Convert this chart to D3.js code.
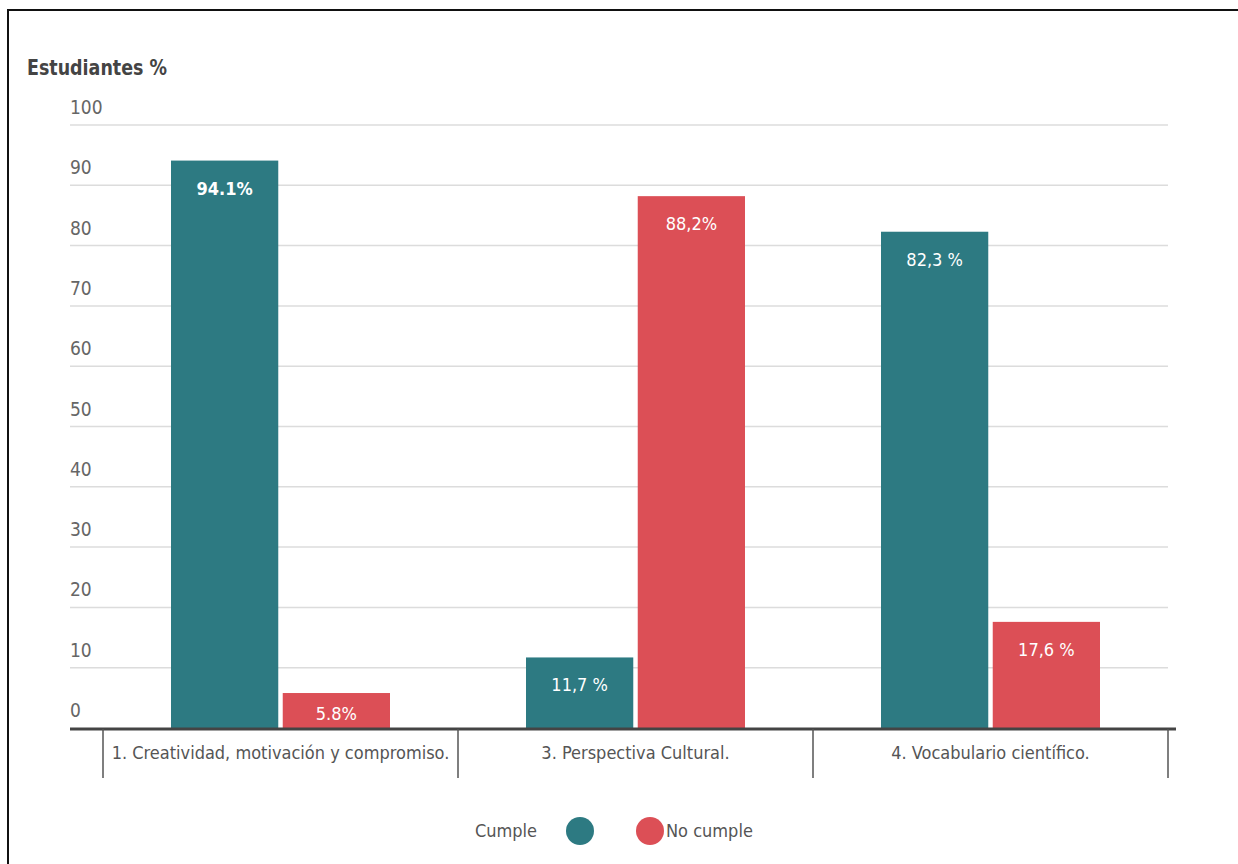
<!DOCTYPE html>
<html>
<head>
<meta charset="utf-8">
<script src="https://cdn.jsdelivr.net/npm/d3@7"></script>
<style>
  html, body { margin: 0; padding: 0; background: #fff; }
  svg { display: block; font-family: "Liberation Sans Narrow", "DejaVu Sans Condensed", "Roboto Condensed", sans-serif; }
</style>
</head>
<body>
<svg id="chart" width="1238" height="864"></svg>
<script>
// Categories, series and their labels
const categories = [
  "1. Creatividad, motivación y compromiso.",
  "3. Perspectiva Cultural.",
  "4. Vocabulario científico."
];
const seriesNames = ["Cumple", "No cumple"];
const cumple = [94.1, 11.7, 82.3];
const noCumple = [5.8, 88.2, 17.6];
const cumpleLabels = ["94.1%", "11,7 %", "82,3 %"];
const noCumpleLabels = ["5.8%", "88,2%", "17,6 %"];
const yTicks = [0, 10, 20, 30, 40, 50, 60, 70, 80, 90, 100];
const colors = ["#2d7a82", "#dc4f56"];

const svg = d3.select("#chart");
const W = 1238, H = 864;

// Frame lines along the top and left edges
svg.append("line").attr("x1", 7).attr("x2", W).attr("y1", 10).attr("y2", 10)
  .attr("stroke", "#111").attr("stroke-width", 2);
svg.append("line").attr("x1", 8).attr("x2", 8).attr("y1", 9).attr("y2", H)
  .attr("stroke", "#111").attr("stroke-width", 2);

const gridLeft = 70, gridRight = 1168;
const catLeft = 103, catRight = 1168;
const y = d3.scaleLinear().domain([0, 100]).range([728, 125]);
const x0 = d3.scaleBand().domain(categories).range([catLeft, catRight]).paddingInner(0).paddingOuter(0);
const x1 = d3.scaleBand().domain(seriesNames).range([0, 219]).paddingInner(0.04);
const barOffset = (x0.bandwidth() - 219) / 2;

// Title
svg.append("text").attr("x", 27).attr("y", 75)
  .attr("font-size", 21).attr("font-weight", "bold").attr("fill", "#444")
  .attr("textLength", 140).attr("lengthAdjust", "spacingAndGlyphs")
  .text("Estudiantes %");

// Gridlines and tick labels
const grid = svg.append("g");
yTicks.forEach(t => {
  if (t > 0) {
    grid.append("line").attr("x1", gridLeft).attr("x2", gridRight)
      .attr("y1", y(t)).attr("y2", y(t))
      .attr("stroke", "#dcdcdc").attr("stroke-width", 1.5);
  }
  grid.append("text").attr("x", gridLeft).attr("y", y(t) - 11)
    .attr("font-size", 19).attr("fill", "#666").text(t);
});

// Bars
const rows = categories.map((c, i) => ({
  cat: c,
  vals: [
    { s: seriesNames[0], v: cumple[i], label: cumpleLabels[i], bold: i === 0 },
    { s: seriesNames[1], v: noCumple[i], label: noCumpleLabels[i], bold: false }
  ]
}));

const groups = svg.append("g").selectAll("g").data(rows).join("g")
  .attr("transform", d => `translate(${x0(d.cat) + barOffset},0)`);

groups.selectAll("rect").data(d => d.vals).join("rect")
  .attr("x", d => x1(d.s))
  .attr("y", d => y(d.v))
  .attr("width", x1.bandwidth())
  .attr("height", d => y(0) - y(d.v))
  .attr("fill", (d, i) => colors[i]);

// Value labels sit near the top of each bar, kept above the baseline
groups.selectAll("text").data(d => d.vals).join("text")
  .attr("x", d => x1(d.s) + x1.bandwidth() / 2)
  .attr("y", d => Math.min(y(d.v) + 34, y(0) - 8))
  .attr("text-anchor", "middle")
  .attr("font-size", 18)
  .attr("font-weight", d => d.bold ? "bold" : "normal")
  .attr("fill", "#fff")
  .text(d => d.label);

// Baseline axis
svg.append("line").attr("x1", gridLeft).attr("x2", 1176)
  .attr("y1", y(0) + 1).attr("y2", y(0) + 1)
  .attr("stroke", "#444").attr("stroke-width", 3);

// Category separators and labels
const seps = [catLeft, ...categories.map(c => x0(c) + x0.bandwidth())];
seps.forEach(sx => {
  svg.append("line").attr("x1", sx).attr("x2", sx).attr("y1", 729).attr("y2", 778)
    .attr("stroke", "#555").attr("stroke-width", 1.5);
});
svg.append("g").selectAll("text").data(categories).join("text")
  .attr("x", d => x0(d) + x0.bandwidth() / 2)
  .attr("y", 759)
  .attr("text-anchor", "middle")
  .attr("font-size", 18).attr("fill", "#555")
  .text(d => d);

// Legend
const ly = 831;
svg.append("text").attr("x", 537).attr("y", ly + 6).attr("text-anchor", "end")
  .attr("font-size", 18).attr("fill", "#555").text(seriesNames[0]);
svg.append("circle").attr("cx", 580).attr("cy", ly).attr("r", 14).attr("fill", colors[0]);
svg.append("circle").attr("cx", 650).attr("cy", ly).attr("r", 14).attr("fill", colors[1]);
svg.append("text").attr("x", 666).attr("y", ly + 6)
  .attr("font-size", 18).attr("fill", "#555").text(seriesNames[1]);
</script>
</body>
</html>
